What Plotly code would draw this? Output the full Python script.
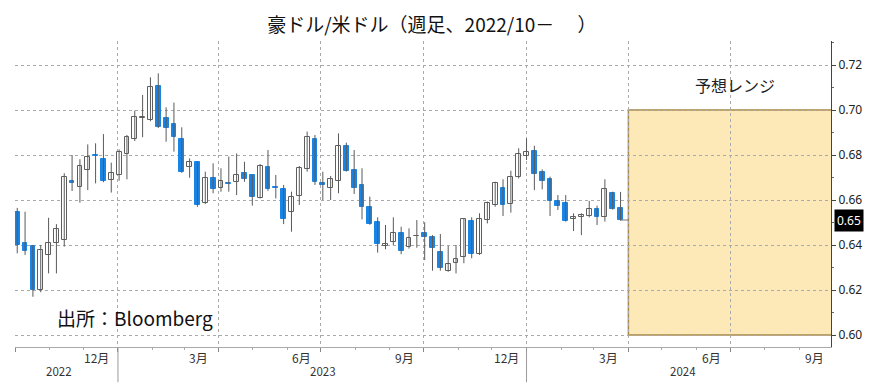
import pandas as pd
import plotly.graph_objects as go

# ---- data (weekly AUD/USD candles) ----
week_start = "2022-10-03"
opens = [0.6548, 0.6410, 0.6396, 0.6200, 0.6356, 0.6407, 0.6422, 0.6686, 0.6659, 0.6733,
         0.6800, 0.6782, 0.6689, 0.6710, 0.6803, 0.6871, 0.6965, 0.6956, 0.7108, 0.6963,
         0.6938, 0.6871, 0.6745, 0.6767, 0.6585, 0.6696, 0.6652, 0.6677, 0.6681, 0.6719,
         0.6710, 0.6610, 0.6748, 0.6659, 0.6647, 0.6545, 0.6619, 0.6736, 0.6873, 0.6674,
         0.6652, 0.6686, 0.6840, 0.6733, 0.6667, 0.6567, 0.6504, 0.6397, 0.6415, 0.6455,
         0.6393, 0.6441, 0.6452, 0.6434, 0.6370, 0.6286, 0.6321, 0.6345, 0.6508, 0.6359,
         0.6511, 0.6578, 0.6652, 0.6581, 0.6704, 0.6797, 0.6818, 0.6726, 0.6692, 0.6596,
         0.6585, 0.6516, 0.6523, 0.6529, 0.6560, 0.6526, 0.6630, 0.6566]
highs = [0.6565, 0.6548, 0.6400, 0.6400, 0.6521, 0.6493, 0.6719, 0.6800, 0.6781, 0.6847,
         0.6852, 0.6893, 0.6766, 0.6825, 0.6889, 0.6997, 0.7067, 0.7145, 0.7163, 0.7012,
         0.7033, 0.6923, 0.6785, 0.6770, 0.6726, 0.6763, 0.6741, 0.6793, 0.6807, 0.6770,
         0.6712, 0.6760, 0.6822, 0.6711, 0.6667, 0.6637, 0.6751, 0.6904, 0.6889, 0.6726,
         0.6707, 0.6896, 0.6855, 0.6822, 0.6741, 0.6615, 0.6523, 0.6489, 0.6523, 0.6481,
         0.6474, 0.6511, 0.6501, 0.6444, 0.6449, 0.6396, 0.6400, 0.6519, 0.6523, 0.6541,
         0.6593, 0.6681, 0.6692, 0.6730, 0.6830, 0.6874, 0.6841, 0.6736, 0.6704, 0.6622,
         0.6622, 0.6541, 0.6541, 0.6596, 0.6575, 0.6692, 0.6637, 0.6636]
lows = [0.6363, 0.6356, 0.6170, 0.6190, 0.6274, 0.6274, 0.6393, 0.6640, 0.6588, 0.6644,
        0.6674, 0.6679, 0.6633, 0.6686, 0.6692, 0.6862, 0.6879, 0.6950, 0.6920, 0.6859,
        0.6815, 0.6721, 0.6699, 0.6570, 0.6582, 0.6630, 0.6637, 0.6637, 0.6622, 0.6681,
        0.6575, 0.6607, 0.6641, 0.6607, 0.6493, 0.6459, 0.6578, 0.6726, 0.6667, 0.6600,
        0.6600, 0.6630, 0.6726, 0.6627, 0.6514, 0.6490, 0.6366, 0.6381, 0.6400, 0.6359,
        0.6384, 0.6388, 0.6333, 0.6286, 0.6286, 0.6281, 0.6274, 0.6319, 0.6341, 0.6356,
        0.6496, 0.6570, 0.6529, 0.6544, 0.6696, 0.6778, 0.6644, 0.6647, 0.6529, 0.6556,
        0.6504, 0.6462, 0.6444, 0.6523, 0.6489, 0.6504, 0.6557, 0.6508]
closes = [0.6400, 0.6373, 0.6200, 0.6380, 0.6410, 0.6470, 0.6704, 0.6674, 0.6751, 0.6793,
          0.6796, 0.6686, 0.6721, 0.6815, 0.6879, 0.6967, 0.6969, 0.7104, 0.6926, 0.6919,
          0.6881, 0.6726, 0.6770, 0.6578, 0.6696, 0.6647, 0.6684, 0.6671, 0.6710, 0.6692,
          0.6615, 0.6751, 0.6647, 0.6652, 0.6516, 0.6612, 0.6744, 0.6879, 0.6679, 0.6667,
          0.6692, 0.6840, 0.6730, 0.6652, 0.6570, 0.6493, 0.6404, 0.6404, 0.6455, 0.6375,
          0.6430, 0.6442, 0.6437, 0.6385, 0.6296, 0.6314, 0.6336, 0.6514, 0.6360, 0.6514,
          0.6585, 0.6677, 0.6578, 0.6701, 0.6803, 0.6815, 0.6714, 0.6686, 0.6597, 0.6575,
          0.6508, 0.6526, 0.6533, 0.6560, 0.6526, 0.6647, 0.6559, 0.6511]

quarter_ticks = ["2022-10-01", "2023-01-01", "2023-04-01", "2023-07-01", "2023-10-01",
                 "2024-01-01", "2024-04-01", "2024-07-01", "2024-10-01"]
month_label_dates = ["2022-12-13", "2023-03-14", "2023-06-14", "2023-09-14",
                     "2023-12-14", "2024-03-14", "2024-06-14", "2024-09-14"]
month_labels = ["12月", "3月", "6月", "9月", "12月", "3月", "6月", "9月"]
year_label_dates = ["2022-11-09", "2023-07-03", "2024-05-20"]
year_labels = ["2022", "2023", "2024"]
year_breaks = ["2023-01-01", "2024-01-01"]
y_ticks = [0.60, 0.62, 0.64, 0.66, 0.68, 0.70, 0.72]

forecast_start, forecast_end = "2024-04-01", "2024-09-30"
forecast_low, forecast_high = 0.60, 0.70
forecast_label = "予想レンジ"
title_text = "豪ドル/米ドル（週足、2022/10－　 ）"
source_text = "出所：Bloomberg"

# ---- build ----
dates = pd.date_range(week_start, periods=len(opens), freq="7D")
BLUE = "#1a84e4"
body_w = 4.3 * 86400000

wx, wy = [], []
for d, h, l in zip(dates, highs, lows):
    wx += [d, d, None]
    wy += [l, h, None]

up = [i for i in range(len(opens)) if closes[i] >= opens[i]]
dn = [i for i in range(len(opens)) if closes[i] < opens[i]]

fig = go.Figure()
fig.add_trace(go.Scatter(x=wx, y=wy, mode="lines", line=dict(color="#5a5a5a", width=1),
                         hoverinfo="skip", showlegend=False))
fig.add_trace(go.Bar(x=[dates[i] for i in up], base=[opens[i] for i in up],
                     y=[closes[i] - opens[i] for i in up], width=body_w,
                     marker=dict(color="white", line=dict(color="#5e5e5e", width=1)),
                     showlegend=False))
fig.add_trace(go.Bar(x=[dates[i] for i in dn], base=[closes[i] for i in dn],
                     y=[opens[i] - closes[i] for i in dn], width=body_w,
                     marker=dict(color=BLUE, line=dict(color=BLUE, width=1)),
                     showlegend=False))
# last price line
fig.add_trace(go.Scatter(x=[dates[-1], forecast_start], y=[closes[-1], closes[-1]], mode="lines",
                         line=dict(color="#777777", width=1), showlegend=False, hoverinfo="skip"))

# forecast range box
fig.add_shape(type="rect", xref="x", yref="y", x0=forecast_start, x1=forecast_end,
              y0=forecast_low, y1=forecast_high, fillcolor="#fde9b8",
              line=dict(color="#a8894a", width=1.5), layer="below")

# year separators
for yb in year_breaks:
    fig.add_shape(type="line", xref="x", yref="paper", x0=yb, x1=yb, y0=0, y1=-0.115,
                  line=dict(color="#9a9a9a", width=1))

CJK = "Noto Sans CJK JP"
annotations = []
for d, t in zip(month_label_dates, month_labels):
    annotations.append(dict(x=d, y=0, xref="x", yref="paper", yanchor="top", text=t,
                            showarrow=False, font=dict(family=CJK, size=12, color="#333"), yshift=0))
for d, t in zip(year_label_dates, year_labels):
    annotations.append(dict(x=d, y=0, xref="x", yref="paper", yanchor="top", text=t,
                            showarrow=False, font=dict(family=CJK, size=11.5, color="#333"), yshift=-14))
annotations.append(dict(x="2024-07-05", y=0.7111, xref="x", yref="y", text=forecast_label,
                        showarrow=False, font=dict(family=CJK, size=16, color="#222")))
annotations.append(dict(x=0.049, y=0.6076, xref="paper", yref="y", xanchor="left", text=source_text,
                        showarrow=False, font=dict(family=CJK, size=19, color="#111")))
annotations.append(dict(x=1, y=closes[-1], xref="paper", yref="y", xanchor="left",
                        text=f"{closes[-1]:.2f}", showarrow=False, bgcolor="black",
                        font=dict(family="Noto Sans", size=12, color="white"), xshift=3, borderpad=2))

# page body has an 8px default margin, so the figure is sized to fill the rest of the window
fig.update_layout(
    width=874, height=377, margin=dict(l=7, r=51, t=33, b=38),
    paper_bgcolor="white", plot_bgcolor="white", barmode="overlay", bargap=0,
    title=dict(text=title_text, x=0.485, xanchor="center", y=0.955, yanchor="middle",
               font=dict(family=CJK, size=19, color="#111")),
    annotations=annotations, showlegend=False,
)
fig.update_xaxes(type="date", range=["2022-10-01", "2024-09-29"], tickvals=quarter_ticks,
                 showticklabels=False, ticks="outside", ticklen=4, tickcolor="#888",
                 showgrid=True, gridcolor="#aaaaaa", griddash="dot", gridwidth=1,
                 showline=True, linecolor="#aaaaaa", linewidth=1, zeroline=False,
                 minor=dict(dtick="M1", tick0="2022-10-01", ticks="outside", ticklen=2,
                            tickcolor="#aaa", showgrid=False))
fig.update_yaxes(side="right", range=[0.59467, 0.73067], tickvals=y_ticks,
                 ticktext=[f"{v:.2f}" for v in y_ticks], ticks="outside", ticklen=4,
                 tickcolor="#444", tickfont=dict(family="Noto Sans", size=12, color="#222"),
                 showgrid=True, gridcolor="#aaaaaa", griddash="dot", gridwidth=1,
                 showline=True, linecolor="#444", linewidth=1, zeroline=False,
                 minor=dict(dtick=0.01, tick0=0.60, ticks="outside", ticklen=2, tickcolor="#666",
                            showgrid=False))

fig.write_html("out.html")
